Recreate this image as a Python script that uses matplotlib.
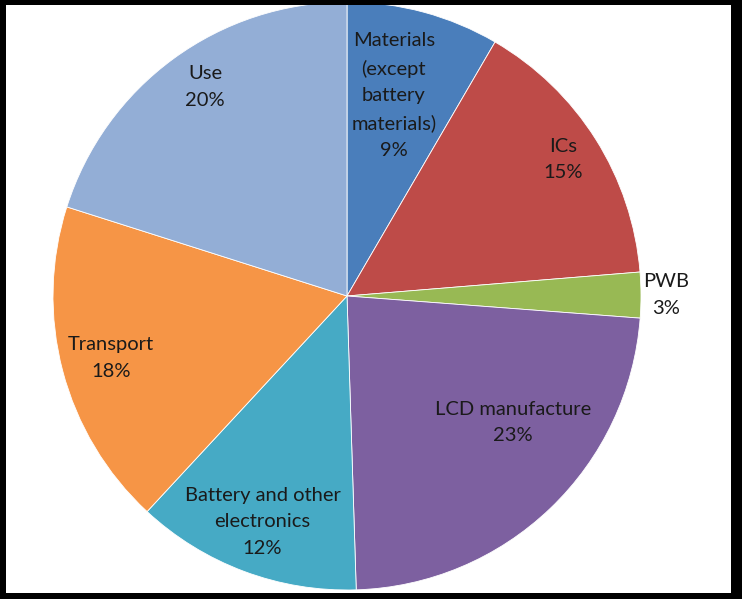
import numpy as np
import matplotlib
matplotlib.use("Agg")
import matplotlib.pyplot as plt
from matplotlib.patches import Rectangle

# slice data, clockwise from 12 o'clock
categories = ["Materials\n(except\nbattery\nmaterials)", "ICs", "PWB", "LCD manufacture",
              "Battery and other\nelectronics", "Transport", "Use"]
values = [8.4, 15.3, 2.5, 23.3, 12.4, 18.0, 20.1]
pct_labels = ["9%", "15%", "3%", "23%", "12%", "18%", "20%"]
colors = ["#4A7EBB", "#BE4B48", "#98B954", "#7D60A0", "#46AAC5", "#F69546", "#93AED6"]

# label placement (fraction of radius, angle tweak in degrees)
label_dist = [0.70, 0.87, 1.085, 0.71, 0.82, 0.83, 0.86]
label_rot = [2, 0, 0, 9, 0, 0, -2]

W, H = 742, 599
fig = plt.figure(figsize=(W / 100, H / 100), dpi=100)
ax = fig.add_axes([0, 0, 1, 1])

cx, cy, R = 347, H - 296, 294
wedges, _ = ax.pie(values, colors=colors, startangle=90, counterclock=False,
                   center=(cx, cy), radius=R, frame=True,
                   wedgeprops=dict(edgecolor="white", linewidth=0.6))
ax.set_xlim(0, W)
ax.set_ylim(0, H)
ax.set_aspect("equal")
ax.axis("off")

for w, cat, pct, d, rot in zip(wedges, categories, pct_labels, label_dist, label_rot):
    ang = np.deg2rad((w.theta1 + w.theta2) / 2 + rot)
    x = cx + d * R * np.cos(ang)
    y = cy + d * R * np.sin(ang)
    ax.text(x, y, cat + "\n" + pct, ha="center", va="center", fontsize=14.5,
            family="Lato", color="#1a1a1a", linespacing=1.68)

# black frame around the picture
for (x0, y0, ww, hh) in [(0, 0, 6, H), (W - 11, 0, 11, H), (0, H - 5, W, 5), (0, 0, W, 6)]:
    fig.patches.append(Rectangle((x0 / W, y0 / H), ww / W, hh / H, transform=fig.transFigure,
                                 facecolor="black", edgecolor="none", zorder=10))

fig.savefig("out.png", dpi=100)
